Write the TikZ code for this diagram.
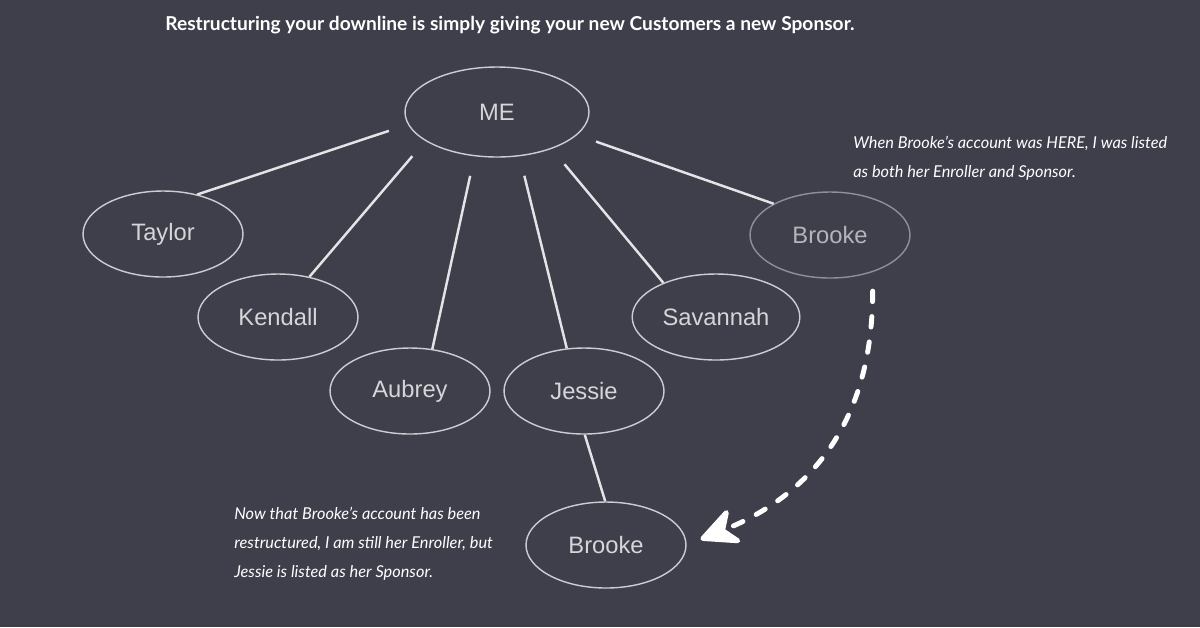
\documentclass[tikz,border=0pt]{standalone}
\usepackage{fontspec}
\setmainfont{Lato}
\newfontfamily\namefont{Liberation Sans}
\usepackage{tikz}
\usetikzlibrary{positioning,shapes.geometric,arrows.meta}
\definecolor{bgcol}{HTML}{3E3F4B}
\definecolor{linecol}{HTML}{E4E4E6}
\definecolor{ringcol}{HTML}{CDCDD1}
\definecolor{namecol}{HTML}{D6D6D8}
\definecolor{fadering}{HTML}{8E8F98}
\definecolor{fadename}{HTML}{B4B5BA}

\begin{document}
\begin{tikzpicture}[x=0.02cm,y=-0.02cm,
		personnode/.style={ellipse,draw=ringcol,line width=0.8pt,minimum width=3.2cm,minimum height=1.72cm,
			text=namecol,font=\namefont\fontsize{13.5}{16}\selectfont},
		menode/.style={personnode,minimum width=3.68cm,minimum height=1.8cm},
		fadednode/.style={personnode,draw=fadering,text=fadename},
		notenode/.style={inner sep=0pt,align=left,text=white,font=\itshape\fontsize{9.3}{16.5}\selectfont},
		titlenode/.style={inner sep=0pt,text=white,font=\bfseries\fontsize{10.9}{14}\selectfont},
		link/.style={draw=linecol,line width=1.4pt,shorten <=0.4cm},
		movearrow/.style={draw=white,line width=2.8pt,line cap=round,dash pattern=on 6pt off 8.5pt,
			-{Stealth[length=25pt,width=24pt,inset=8pt,round]},shorten <=0.38cm,shorten >=0.3cm}]
	\fill[bgcol] (0,0) rectangle (1200,627);
	\useasboundingbox (0,0) rectangle (1200,627);

	\node[titlenode,anchor=west] (title) at (165,25) {Restructuring your downline is simply giving your new Customers a new Sponsor.};

	% the tree
	\node[menode] (me) at (497,112) {ME};
	\node[personnode] (taylor) at (163,234) {Taylor};
	\node[personnode] (kendall) at (278,317) {Kendall};
	\node[personnode] (aubrey) at (410,391) {Aubrey};
	\node[personnode] (jessie) at (584,391) {Jessie};
	\node[personnode] (savannah) at (716,317) {Savannah};
	\node[fadednode] (oldbrooke) at (830,235) {Brooke};
	\node[personnode] (newbrooke) at (606,545) {Brooke};

	\draw[link] (me.188) -- (taylor.49.5);
	\draw[link] (me.202.8) -- (kendall.52);
	\draw[link] (me.243.4) -- (aubrey.62.4);
	\draw[link] (me.297.3) -- (jessie.112);
	\draw[link] (me.326.5) -- (savannah.147.8);
	\draw[link] (me.344.9) -- (oldbrooke.151.8);
	\draw[link,shorten <=0pt] (jessie.271) -- (newbrooke.91);

	% the move
	\draw[movearrow] (oldbrooke.319.6) to[out=-90,in=22,looseness=1.1] (newbrooke.east);

	\node[notenode,anchor=north west] (herenote) at (853,136) {When Brooke's account was HERE, I was listed\\as both her Enroller and Sponsor.};
	\node[notenode,anchor=north west] (nownote) at (234,507) {Now that Brooke's account has been\\restructured, I am still her Enroller, but\\Jessie is listed as her Sponsor.};
\end{tikzpicture}
\end{document}
